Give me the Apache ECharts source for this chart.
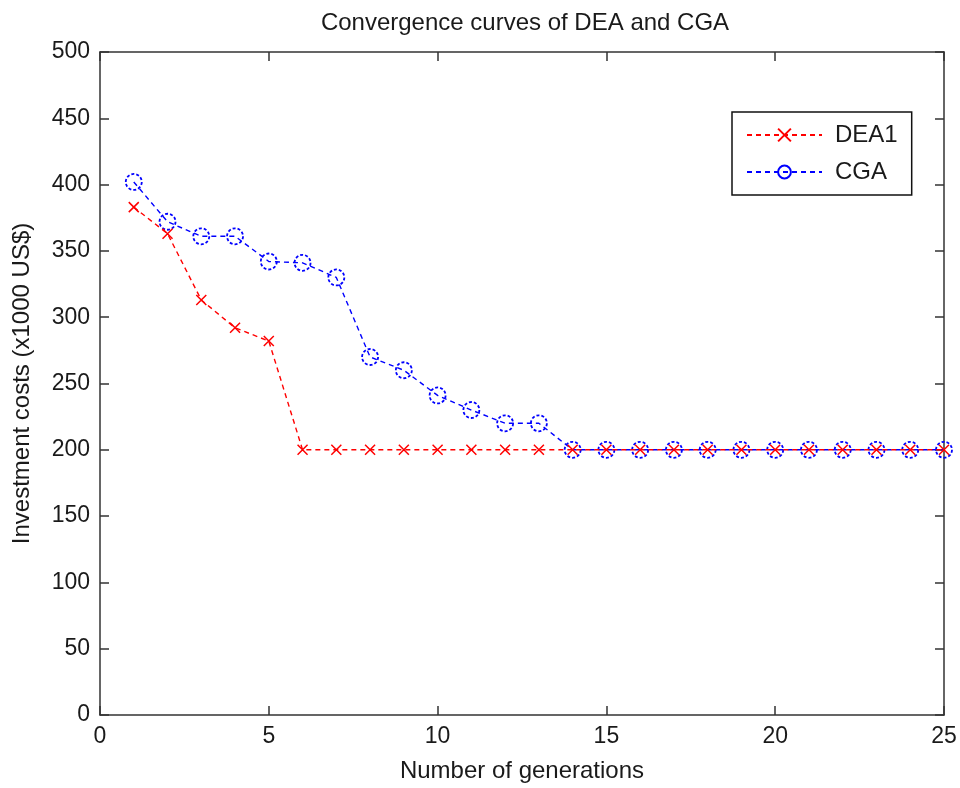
<!DOCTYPE html>
<html>
<head>
<meta charset="utf-8">
<script src="https://cdn.jsdelivr.net/npm/echarts@6/dist/echarts.min.js"></script>
<style>
  html, body { margin: 0; padding: 0; background: #fff; }
  #chart { width: 960px; height: 788px; }
</style>
</head>
<body>
<div id="chart"></div>
<script>
// Generation index and best investment cost found per generation
const generations = [1, 2, 3, 4, 5, 6, 7, 8, 9, 10, 11, 12, 13, 14, 15, 16, 17, 18, 19, 20, 21, 22, 23, 24, 25];
const dea1Costs = [383, 363, 313, 292, 282, 200, 200, 200, 200, 200, 200, 200, 200, 200, 200, 200, 200, 200, 200, 200, 200, 200, 200, 200, 200];
const cgaCosts = [402, 372, 361, 361, 342, 341, 330, 270, 260, 241, 230, 220, 220, 200, 200, 200, 200, 200, 200, 200, 200, 200, 200, 200, 200];
const seriesNames = ['DEA1', 'CGA'];
const titleText = 'Convergence curves of DEA and CGA';
const xAxisTitle = 'Number of generations';
const yAxisTitle = 'Investment costs (x1000 US$)';

const FONT = '"Liberation Sans", Arial, sans-serif';
const AXIS_COLOR = '#333';
const TEXT_COLOR = '#1a1a1a';
const crossPath = 'path://M0,0L10,10M10,0L0,10';

const pairs = arr => generations.map((g, i) => [g, arr[i]]);

const chart = echarts.init(document.getElementById('chart'), null, { renderer: 'canvas' });

const baseAxisLine = { show: true, onZero: false, lineStyle: { color: AXIS_COLOR, width: 1.5 } };
const baseTick = { show: true, inside: true, length: 9, lineStyle: { color: AXIS_COLOR, width: 1.5 } };

chart.setOption({
  backgroundColor: '#fff',
  animation: false,
  title: {
    text: titleText,
    left: 520,
    top: 6,
    textAlign: 'center',
    textStyle: { fontFamily: FONT, fontSize: 24, fontWeight: 'normal', color: TEXT_COLOR }
  },
  grid: { left: 100, right: 16, top: 52, bottom: 73, containLabel: false },
  legend: {
    data: seriesNames,
    orient: 'vertical',
    left: 732,
    top: 112,
    padding: [11, 14, 11, 14],
    itemWidth: 75,
    itemHeight: 16,
    itemGap: 13,
    borderColor: '#111',
    borderWidth: 1.5,
    backgroundColor: '#fff',
    textStyle: { fontFamily: FONT, fontSize: 24, color: TEXT_COLOR, padding: [0, 0, 0, 8] }
  },
  xAxis: [
    {
      type: 'value', min: 0, max: 25, interval: 5, position: 'bottom',
      name: xAxisTitle, nameLocation: 'middle', nameGap: 44,
      nameTextStyle: { fontFamily: FONT, fontSize: 24, color: TEXT_COLOR },
      axisLine: baseAxisLine, axisTick: baseTick,
      axisLabel: { fontFamily: FONT, fontSize: 23, color: TEXT_COLOR, margin: 10 },
      splitLine: { show: false }
    },
    {
      type: 'value', min: 0, max: 25, interval: 5, position: 'top',
      axisLine: baseAxisLine, axisTick: baseTick,
      axisLabel: { show: false }, splitLine: { show: false }
    }
  ],
  yAxis: [
    {
      type: 'value', min: 0, max: 500, interval: 50, position: 'left',
      name: yAxisTitle, nameLocation: 'middle', nameGap: 66,
      nameTextStyle: { fontFamily: FONT, fontSize: 24, color: TEXT_COLOR },
      axisLine: baseAxisLine, axisTick: baseTick,
      axisLabel: { fontFamily: FONT, fontSize: 23, color: TEXT_COLOR, margin: 10 },
      splitLine: { show: false }
    },
    {
      type: 'value', min: 0, max: 500, interval: 50, position: 'right',
      axisLine: baseAxisLine, axisTick: baseTick,
      axisLabel: { show: false }, splitLine: { show: false }
    }
  ],
  series: [
    {
      name: seriesNames[0],
      type: 'line',
      data: pairs(dea1Costs),
      z: 3,
      symbol: crossPath,
      symbolSize: 10,
      showAllSymbol: true,
      itemStyle: { color: '#ff0000', borderColor: '#ff0000', borderWidth: 1.5 },
      lineStyle: { color: '#ff0000', width: 1.4, type: [5, 4] }
    },
    {
      name: seriesNames[1],
      type: 'line',
      data: pairs(cgaCosts),
      z: 2,
      symbol: 'circle',
      symbolSize: 16,
      showAllSymbol: true,
      itemStyle: { color: 'rgba(0,0,255,0)', borderColor: '#0000ff', borderWidth: 1.8, borderType: [3, 2] },
      lineStyle: { color: '#0000ff', width: 1.4, type: [5, 4] }
    }
  ]
});
</script>
</body>
</html>
